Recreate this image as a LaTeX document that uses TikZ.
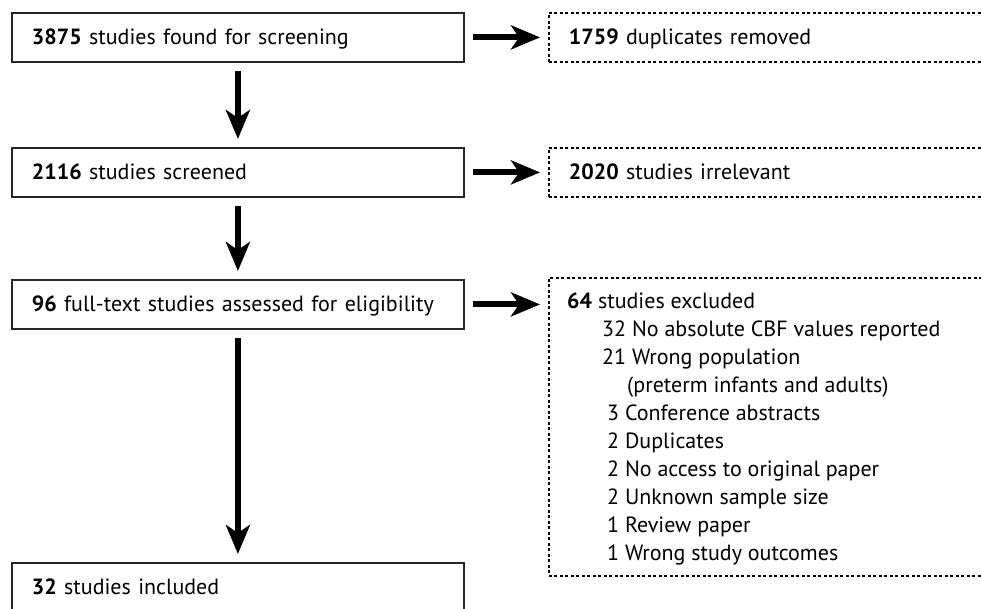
\documentclass[tikz,border=0pt]{standalone}
\usepackage{fontspec}
\setmainfont{PT Sans}
\usetikzlibrary{arrows.meta}
\tikzset{>={Stealth[length=29pt,width=24pt,inset=8pt]}}

\begin{document}
\begin{tikzpicture}[x=1pt, y=-1pt, font=\fontsize{22}{28}\selectfont,
  mainbox/.style={draw=black!85, line width=1.8pt, anchor=north west,
    minimum width=452pt, minimum height=49pt, text width=412pt,
    inner xsep=20pt, inner ysep=0pt, text height=20pt, text depth=5pt, align=left},
  sidebox/.style={draw=black, line width=1.8pt, dash pattern=on 3pt off 2.5pt,
    anchor=north west, minimum width=450pt, text width=410pt,
    inner xsep=20pt, inner ysep=0pt, text height=20pt, text depth=5pt, align=left},
  flow/.style={->, line width=6pt, shorten <=8pt, shorten >=8pt}]
\useasboundingbox (0,0) rectangle (981,609);
\clip (0,0) rectangle (981,609);

% main column
\node[mainbox] (found)    at (11,12)  {\textbf{3875} studies found for screening};
\node[mainbox] (screened) at (11,147) {\textbf{2116} studies screened};
\node[mainbox] (assessed) at (11,279) {\textbf{96} full-text studies assessed for eligibility};
\node[mainbox] (included) at (11,562) {\textbf{32} studies included};

% side column
\node[sidebox, minimum height=49pt]  (dupl)  at (548,12)  {\textbf{1759} duplicates removed};
\node[sidebox, minimum height=49pt]  (irrel) at (548,147) {\textbf{2020} studies irrelevant};
\node[sidebox, minimum height=298pt] (excl)  at (548,277) {};
\node[anchor=north west, inner sep=0pt, align=left] (reasons) at (567,293) {%
  \textbf{64} studies excluded\\
  \hspace*{35pt}32 No absolute CBF values reported\\
  \hspace*{35pt}21 Wrong population\\
  \hspace*{60pt}(preterm infants and adults)\\
  \hspace*{40pt}3 Conference abstracts\\
  \hspace*{40pt}2 Duplicates\\
  \hspace*{40pt}2 No access to original paper\\
  \hspace*{40pt}2 Unknown sample size\\
  \hspace*{40pt}1 Review paper\\
  \hspace*{40pt}1 Wrong study outcomes};

% arrows
\draw[flow] (found) -- (screened);
\draw[flow] (screened) -- (assessed);
\draw[flow] (assessed) -- (included);
\draw[flow] (found) -- (dupl);
\draw[flow] (screened) -- (irrel);
\draw[flow] (assessed.east) -- (assessed.east -| excl.west);
\end{tikzpicture}
\end{document}
